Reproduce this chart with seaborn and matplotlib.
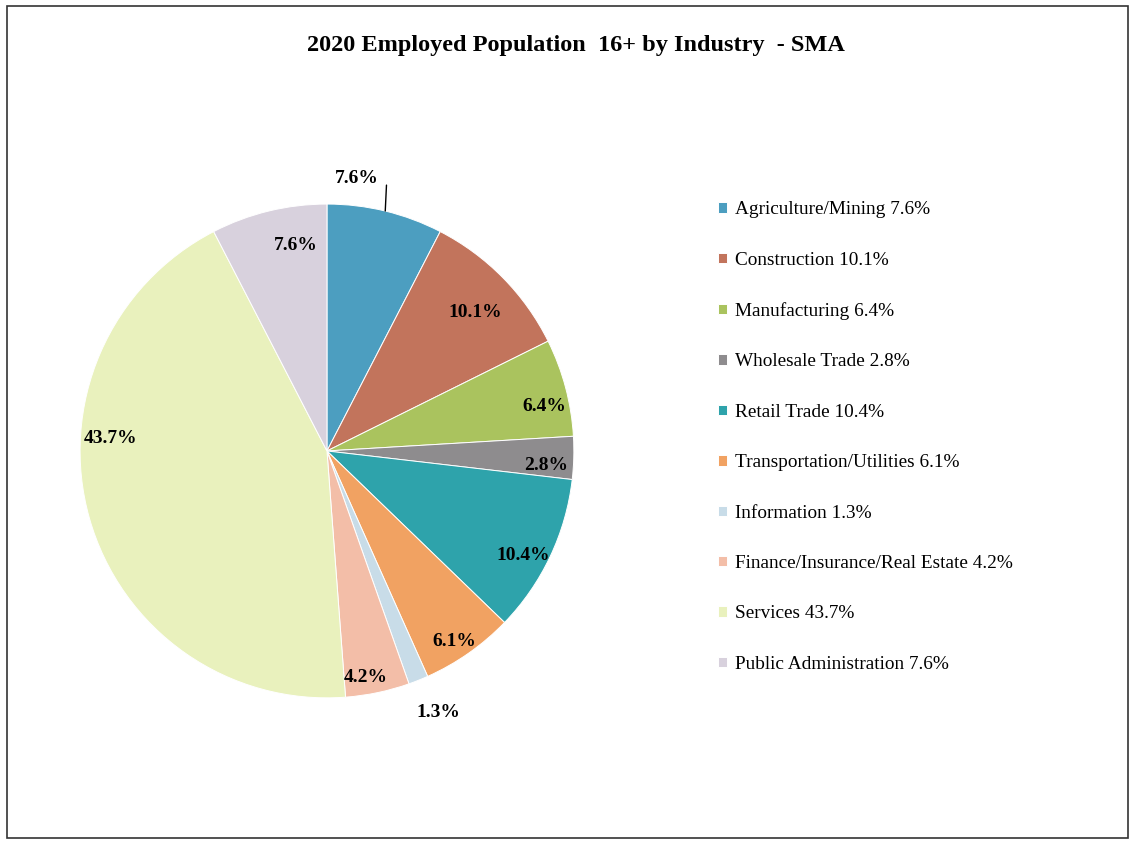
import numpy as np
import matplotlib
matplotlib.use("Agg")
import matplotlib.pyplot as plt
import matplotlib.patches as mpatches
import seaborn as sns

# data
industries = [
    'Agriculture/Mining',
    'Construction',
    'Manufacturing',
    'Wholesale Trade',
    'Retail Trade',
    'Transportation/Utilities',
    'Information',
    'Finance/Insurance/Real Estate',
    'Services',
    'Public Administration'
]
shares = [7.6, 10.1, 6.4, 2.8, 10.4, 6.1, 1.3, 4.2, 43.7, 7.6]
slice_colors = ['#4c9ec0', '#c2745c', '#aac35e', '#8e8c8e', '#2ea3ab',
                '#f1a262', '#c8dce8', '#f3bea8', '#e9f1bd', '#d8d1dd']

# label layout tweaks (radius as fraction of pie, angle offset in degrees)
label_radius = [1.0, 0.82, 0.90, 0.89, 0.90, 0.93, 1.15, 0.93, 0.88, 0.84]
label_shift = [0, -1.5, -3.5, -2.3, -2.6, -1.2, 1.3, -2.1, -19.2, -5.0]

sns.set_theme(style="white")
plt.rcParams['font.family'] = ['Liberation Serif', 'DejaVu Serif']
plt.rcParams['text.color'] = 'black'

fig = plt.figure(figsize=(11.38, 8.46), dpi=100)
ax = fig.add_axes([0.00527, 0.0875, 0.5641, 0.7589])

wedges, _ = ax.pie(
    shares,
    colors=slice_colors,
    startangle=90,
    counterclock=False,
    wedgeprops=dict(edgecolor='white', linewidth=0.7)
)
ax.set_xlim(-1.3, 1.3)
ax.set_ylim(-1.3, 1.3)
ax.set_aspect('equal')
ax.axis('off')

# percentage labels
for i, w in enumerate(wedges):
    mid = (w.theta1 + w.theta2) / 2
    txt = f"{shares[i]:.1f}%"
    if i == 0:
        # small slice label with leader line above the pie
        ex, ey = np.cos(np.radians(mid)), np.sin(np.radians(mid))
        ax.plot([ex, ex + 0.005], [ey, ey + 0.105], color='black', lw=1.0)
        ax.text(ex - 0.025, ey + 0.13, txt, ha='right', va='center',
                fontsize=14, fontweight='bold', color='black')
        continue
    ang = np.radians(mid + label_shift[i])
    r = label_radius[i]
    ax.text(r * np.cos(ang), r * np.sin(ang), txt, ha='center', va='center',
            fontsize=14, fontweight='bold', color='black')

# legend
legend_labels = [f"{n} {v:.1f}%" for n, v in zip(industries, shares)]
fig.legend(
    wedges, legend_labels,
    loc='upper left',
    bbox_to_anchor=(0.631, 0.762),
    frameon=False,
    fontsize=13.9,
    labelcolor='black',
    handlelength=0.45,
    handleheight=0.45,
    handletextpad=0.45,
    labelspacing=1.73,
    borderpad=0,
    borderaxespad=0
)

fig.text(0.506, 1 - 45 / 846, '2020 Employed Population  16+ by Industry  - SMA',
         ha='center', va='center', fontsize=17.5, fontweight='bold', color='black')

# chart border
fig.patches.append(mpatches.Rectangle(
    (7 / 1138, 1 - 838 / 846), (1128 - 7) / 1138, (838 - 6) / 846,
    transform=fig.transFigure, fill=False, edgecolor='#333333', linewidth=1.2))

fig.savefig('out.png', dpi=100)
